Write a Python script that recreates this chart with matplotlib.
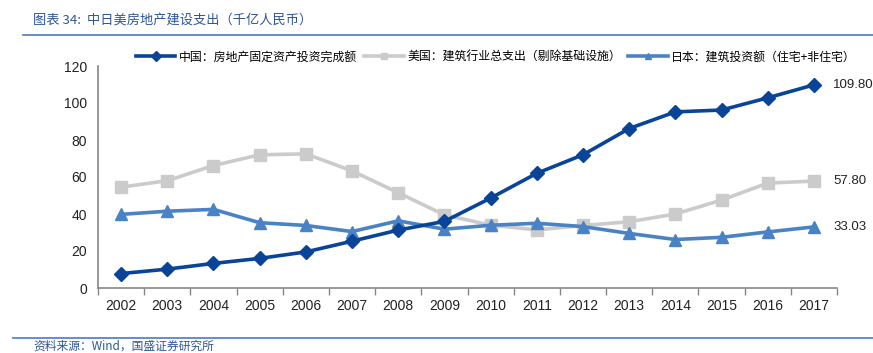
import matplotlib
matplotlib.use("Agg")
import matplotlib.pyplot as plt
from matplotlib.lines import Line2D

plt.rcParams['font.family'] = ['Noto Sans CJK SC', 'DejaVu Sans']

years = ["2002", "2003", "2004", "2005", "2006", "2007", "2008", "2009",
         "2010", "2011", "2012", "2013", "2014", "2015", "2016", "2017"]
china = [7.8, 10.2, 13.3, 16.0, 19.5, 25.3, 31.3, 36.0, 48.6, 62.0, 72.0,
         86.2, 95.2, 96.2, 102.8, 109.80]
usa = [54.5, 58.0, 66.2, 72.0, 72.5, 63.3, 51.5, 39.5, 34.0, 31.4, 33.8,
       35.8, 40.0, 47.5, 56.7, 57.80]
japan = [39.8, 41.5, 42.5, 35.3, 33.8, 30.5, 36.3, 31.8, 33.9, 35.0, 33.2,
         29.5, 26.2, 27.4, 30.3, 33.03]
end_labels = ["109.80", "57.80", "33.03"]
labels = ["中国：房地产固定资产投资完成额", "美国：建筑行业总支出（剔除基础设施）",
          "日本：建筑投资额（住宅+非住宅）"]
title = "图表 34:  中日美房地产建设支出（千亿人民币）"
source = "资料来源：Wind，国盛证券研究所"

c_cn = "#0A4498"
c_us = "#CBCBCB"
c_jp = "#4A82C6"
axis_col = "#868686"

fig = plt.figure(figsize=(8.73, 3.53), dpi=100)
ax = fig.add_axes([98/873, 1-288/353, (837-98)/873, (288-66)/353])

x = list(range(len(years)))
ax.plot(x, china, color=c_cn, lw=2.6, marker='D', ms=7, zorder=5)
ax.plot(x, usa, color=c_us, lw=2.6, marker='s', ms=8, zorder=3)
ax.plot(x, japan, color=c_jp, lw=2.6, marker='^', ms=8, zorder=4)

for vals, txt in zip((china, usa, japan), end_labels):
    ax.annotate(txt, xy=(x[-1], vals[-1]), xytext=(14, 0),
                textcoords='offset points', va='center', ha='left',
                fontsize=9.5, family=['Liberation Sans'], color='#222222')

ax.set_xlim(-0.5, len(years) - 0.5)
ax.set_ylim(0, 120)
ax.set_yticks(range(0, 121, 20))
ax.set_xticks(x)
ax.set_xticklabels(years)
ax.set_xticks([i + 0.5 for i in range(-1, len(years))], minor=True)
ax.tick_params(axis='x', which='major', length=0, pad=8)
ax.tick_params(axis='x', which='minor', length=5, color=axis_col, width=1)
ax.tick_params(axis='y', length=0, pad=8)
for lab in ax.get_xticklabels() + ax.get_yticklabels():
    lab.set_family(['Liberation Sans'])
    lab.set_fontsize(10)
    lab.set_color('#222222')
for s in ('top', 'right'):
    ax.spines[s].set_visible(False)
for s in ('left', 'bottom'):
    ax.spines[s].set_color(axis_col)
    ax.spines[s].set_linewidth(1.2)

handles = [
    Line2D([], [], color=c_cn, lw=2.6, marker='D', ms=5),
    Line2D([], [], color=c_us, lw=2.6, marker='s', ms=5),
    Line2D([], [], color=c_jp, lw=2.6, marker='^', ms=5),
]
fig.legend(handles, labels, loc='center', bbox_to_anchor=(496/873, 1-57/353),
           ncol=3, frameon=False, fontsize=8.6, handlelength=3.3,
           handletextpad=0.3, columnspacing=0.6, borderaxespad=0)

fig.text(33/873, 1-20/353, title, fontsize=9.5, style='italic',
         color='#2F5597', va='center', ha='left')
fig.add_artist(Line2D([23/873, 1], [1-35/353, 1-35/353], color='#4A7CC0', lw=1.2))
fig.add_artist(Line2D([13/873, 1], [1-338/353, 1-338/353], color='#4A7CC0', lw=1.2))
fig.text(33/873, 1-346/353, source, fontsize=8.5, style='italic',
         color='#2F5597', va='center', ha='left')

fig.savefig("out.png", dpi=100)
